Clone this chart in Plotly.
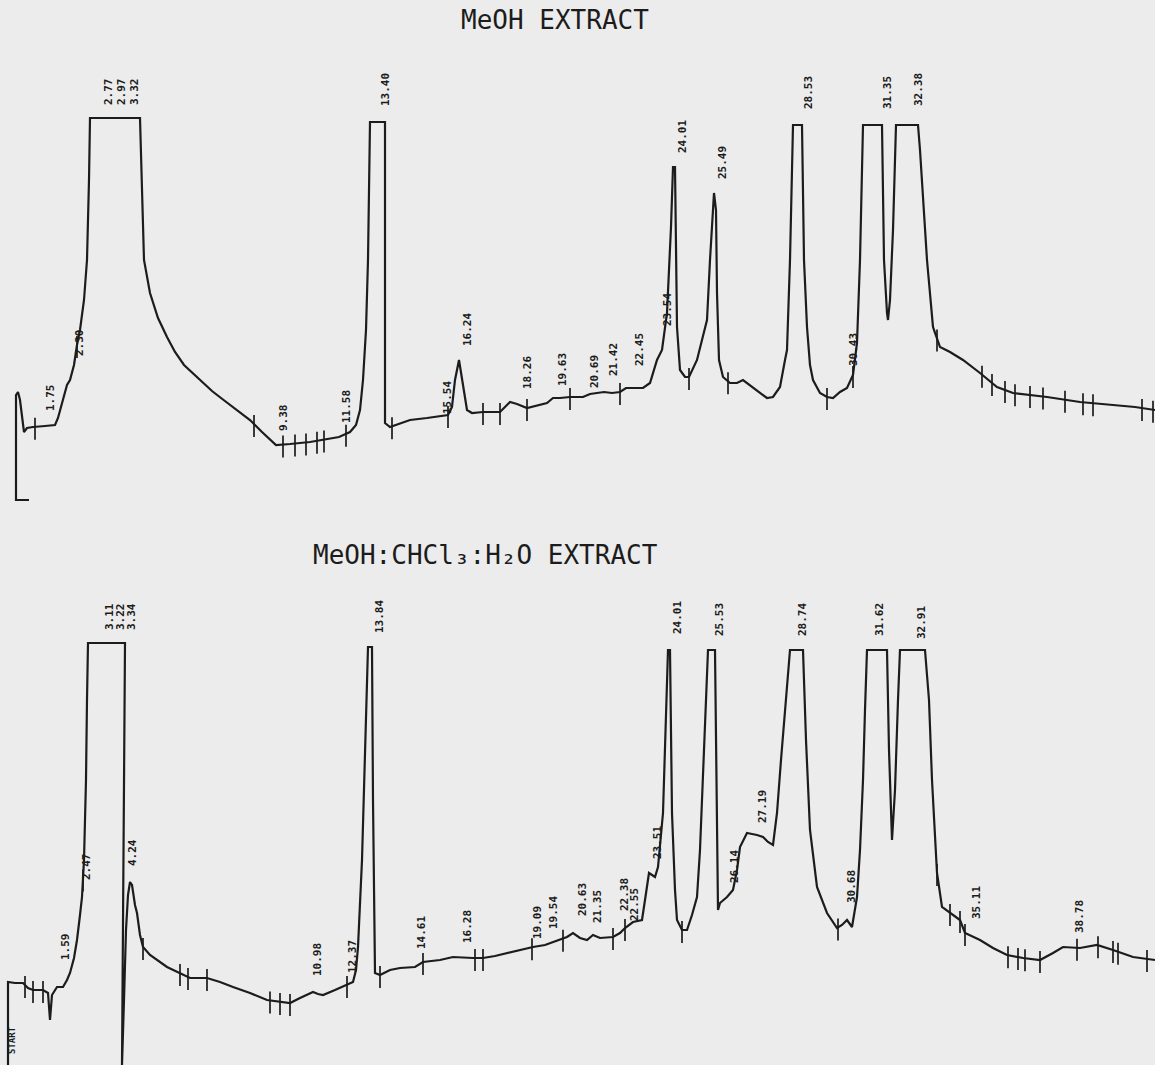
import numpy as np
import plotly.graph_objects as go

# ---- MeOH extract: chart position vs detector response ----
meoh_pos = [29, 16, 16, 18, 20, 24, 27, 33, 45, 55, 58, 63, 67, 70, 74, 77, 80, 84, 87, 89, 90,
            140, 142, 144, 150, 158, 167, 175, 184, 200, 212, 221, 233, 250, 262, 276, 290, 310,
            339, 350, 356, 360, 363, 366, 368, 370, 385, 385, 385, 390, 410, 427, 448, 452, 455,
            459, 463, 467, 472, 483, 500, 510, 517, 527, 547, 553, 560, 570, 583, 590, 604, 612,
            620, 626, 643, 650, 657, 662, 667, 671, 673, 675, 677, 680, 685, 689, 697, 703, 707,
            710, 713, 714, 716, 717, 719, 723, 730, 737, 743, 750, 760, 767, 773, 780, 785, 787,
            790, 793, 802, 804, 807, 810, 813, 820, 827, 833, 840, 847, 853, 857, 860, 863, 882,
            884, 887, 888, 890, 893, 896, 918, 920, 924, 927, 933, 940, 950, 963, 980, 997, 1013,
            1030, 1047, 1080, 1113, 1135, 1155]
meoh_resp = [20, 20, 125, 128, 120, 88, 92, 93, 94, 95, 102, 120, 135, 140, 155, 175, 190, 220, 260,
             340, 402, 402, 320, 260, 227, 202, 183, 168, 155, 140, 129, 122, 113, 100, 88, 75, 76,
             78, 83, 88, 95, 110, 140, 190, 260, 398, 398, 260, 97, 93, 100, 102, 105, 113, 140,
             160, 135, 110, 107, 108, 108, 118, 116, 112, 117, 122, 122, 123, 123, 126, 128, 127,
             128, 132, 132, 137, 160, 170, 207, 293, 353, 353, 193, 150, 143, 143, 160, 183, 200,
             260, 320, 327, 310, 227, 160, 143, 137, 137, 140, 135, 127, 122, 123, 133, 160, 170,
             260, 395, 395, 260, 193, 155, 140, 127, 123, 122, 128, 132, 145, 177, 260, 395, 395,
             260, 207, 200, 220, 290, 395, 395, 370, 300, 260, 193, 173, 168, 160, 147, 133, 127,
             125, 123, 118, 115, 113, 110]
meoh_events = [35, 77, 254, 283, 295, 306, 317, 324, 346, 392, 448, 483, 500, 527, 570, 620, 689,
               728, 827, 853, 937, 982, 992, 1005, 1015, 1030, 1043, 1065, 1083, 1093, 1142, 1153]
meoh_labels = ["1.75", "2.30", "2.77", "2.97", "3.32", "9.38", "11.58", "13.40", "15.54", "16.24",
               "18.26", "19.63", "20.69", "21.42", "22.45", "23.54", "24.01", "25.49", "28.53",
               "30.43", "31.35", "32.38"]
meoh_label_pos = [50, 79, 108, 121, 134, 283, 346, 385, 447, 467, 527, 562, 594, 613, 639, 667,
                  682, 722, 808, 853, 887, 918]
meoh_label_lvl = [122, 177, 428, 428, 428, 102, 113, 430, 122, 190, 147, 150, 148, 160, 170, 210,
                  383, 357, 427, 170, 427, 430]

# ---- MeOH:CHCl3:H2O extract ----
mix_pos = [8, 8, 15, 23, 28, 33, 43, 48, 50, 52, 57, 63, 67, 70, 74, 77, 80, 82, 84, 86, 87, 88,
           125, 124, 123, 122, 124, 126, 128, 130, 132, 135, 137, 140, 143, 150, 167, 180, 190,
           207, 220, 233, 250, 267, 280, 290, 300, 313, 318, 323, 335, 347, 353, 356, 358, 362,
           365, 368, 372, 373, 375, 380, 390, 400, 415, 423, 440, 453, 473, 483, 495, 507, 520,
           533, 545, 560, 567, 573, 580, 587, 593, 600, 613, 620, 625, 633, 642, 645, 649, 655,
           658, 663, 666, 668, 670, 671, 672, 675, 677, 682, 687, 692, 697, 700, 703, 706, 708,
           715, 716, 717, 718, 720, 727, 733, 737, 740, 747, 752, 757, 763, 768, 773, 777, 781,
           785, 788, 790, 803, 806, 810, 817, 827, 837, 842, 847, 852, 857, 860, 863, 865, 867,
           887, 889, 892, 895, 898, 900, 925, 929, 932, 935, 937, 942, 950, 960, 965, 980, 993,
           1007, 1023, 1040, 1053, 1063, 1080, 1097, 1113, 1133, 1155]
mix_resp = [0, 83, 82, 82, 77, 75, 75, 72, 45, 70, 78, 78, 85, 92, 107, 125, 150, 168, 205, 285,
            365, 422, 422, 265, 115, 0, 65, 135, 170, 183, 180, 160, 152, 130, 118, 110, 98, 92,
            87, 87, 83, 78, 72, 65, 63, 62, 67, 73, 71, 70, 75, 80, 83, 95, 118, 205, 302, 418,
            418, 265, 92, 90, 95, 97, 98, 103, 105, 108, 107, 107, 109, 112, 115, 118, 120, 125,
            128, 132, 127, 125, 130, 127, 128, 132, 137, 143, 145, 165, 192, 188, 198, 252, 345,
            415, 415, 335, 252, 175, 145, 135, 135, 150, 168, 215, 285, 365, 415, 415, 315, 218,
            155, 162, 168, 175, 195, 218, 232, 231, 230, 228, 223, 220, 252, 305, 352, 385, 415,
            415, 325, 235, 178, 152, 137, 140, 145, 138, 168, 215, 285, 355, 415, 415, 315, 225,
            275, 365, 415, 415, 365, 285, 225, 192, 158, 152, 145, 132, 125, 117, 110, 107, 105,
            112, 118, 117, 120, 115, 108, 105]
mix_events = [25, 33, 43, 83, 143, 180, 188, 207, 270, 280, 290, 347, 380, 423, 475, 483, 532,
              563, 613, 625, 682, 838, 937, 950, 960, 965, 1008, 1018, 1025, 1040, 1077, 1098,
              1113, 1118, 1147]
mix_labels = ["1.59", "2.47", "3.11", "3.22", "3.34", "4.24", "10.98", "12.37", "13.84", "14.61",
              "16.28", "19.09", "19.54", "20.63", "21.35", "22.38", "22.55", "23.51", "24.01",
              "25.53", "26.14", "27.19", "28.74", "30.68", "31.62", "32.91", "35.11", "38.78"]
mix_label_pos = [66, 87, 110, 121, 132, 133, 318, 353, 380, 422, 468, 538, 554, 583, 598, 625,
                 635, 658, 678, 720, 735, 763, 803, 852, 880, 922, 977, 1080]
mix_label_lvl = [118, 198, 448, 448, 448, 212, 105, 108, 448, 132, 138, 142, 152, 165, 158, 170,
                 160, 222, 447, 445, 198, 258, 445, 178, 445, 442, 162, 148]

INK = "#1c1c1c"
PAPER = "#ececec"
MONO = "DejaVu Sans Mono"


def event_marks(pos, resp, events, up=9, down=13):
    """Short vertical integrator marks sitting on the trace."""
    p = np.array(pos, dtype=float)
    r = np.array(resp, dtype=float)
    xs, ys = [], []
    for e in events:
        idx = np.where(p >= e)[0]
        i = idx[0] if len(idx) else len(p) - 1
        if i == 0 or p[i] == p[i - 1]:
            level = r[i]
        else:
            level = r[i - 1] + (r[i] - r[i - 1]) * (e - p[i - 1]) / (p[i] - p[i - 1])
        xs += [e, e, None]
        ys += [level + up, level - down, None]
    return xs, ys


fig = go.Figure()

for pos, resp, events, yax in [(meoh_pos, meoh_resp, meoh_events, "y"),
                               (mix_pos, mix_resp, mix_events, "y2")]:
    fig.add_trace(go.Scatter(x=pos, y=resp, mode="lines", yaxis=yax, xaxis="x",
                             line=dict(color=INK, width=2.2), hoverinfo="skip", showlegend=False))
    ex, ey = event_marks(pos, resp, events)
    fig.add_trace(go.Scatter(x=ex, y=ey, mode="lines", yaxis=yax, xaxis="x",
                             line=dict(color=INK, width=1.7), hoverinfo="skip", showlegend=False))

annotations = []
for labels, xs, lv, yref in [(meoh_labels, meoh_label_pos, meoh_label_lvl, "y"),
                             (mix_labels, mix_label_pos, mix_label_lvl, "y2")]:
    for t, x, y in zip(labels, xs, lv):
        annotations.append(dict(x=x, y=y, xref="x", yref=yref, text=t,
                                showarrow=False, textangle=-90,
                                font=dict(family=MONO, size=11, color=INK, weight="bold")))

annotations.append(dict(x=12, y=25, xref="x", yref="y2", text="START", showarrow=False,
                        textangle=-90, font=dict(family=MONO, size=9, color=INK, weight="bold")))
annotations.append(dict(x=555, y=500, xref="x", yref="y", text="MeOH EXTRACT", showarrow=False,
                        font=dict(family=MONO, size=26, color=INK)))
annotations.append(dict(x=485, y=510, xref="x", yref="y2",
                        text="MeOH:CHCl\u2083:H\u2082O EXTRACT", showarrow=False,
                        font=dict(family=MONO, size=26, color=INK)))

hidden = dict(visible=False, showgrid=False, zeroline=False, fixedrange=True)
fig.update_layout(
    width=1155, height=1065,
    margin=dict(l=0, r=0, t=0, b=0),
    paper_bgcolor=PAPER, plot_bgcolor=PAPER,
    xaxis=dict(range=[0, 1155], domain=[0, 1], **hidden),
    yaxis=dict(range=[0, 520], domain=[1 - 520 / 1065, 1], **hidden),
    yaxis2=dict(range=[0, 545], domain=[0, 1 - 520 / 1065], anchor="x", **hidden),
    annotations=annotations,
)

fig.write_html("out.html")
